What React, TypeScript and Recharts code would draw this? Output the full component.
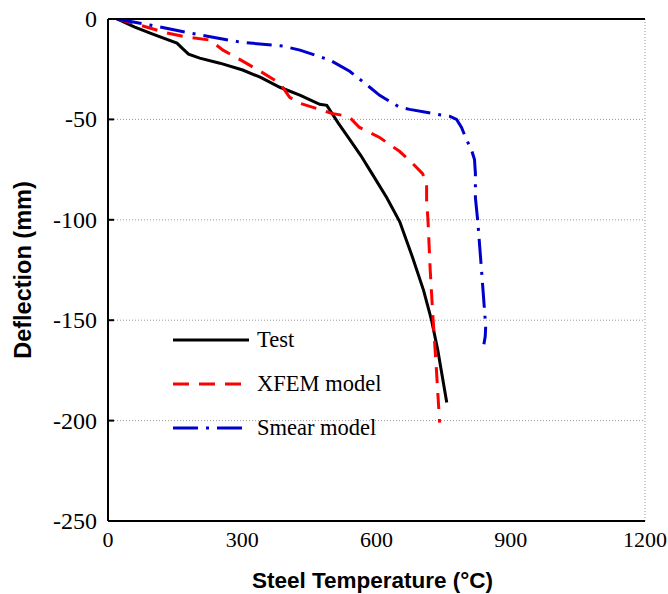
import { CartesianGrid, Label, Legend, Line, LineChart, XAxis, YAxis } from "recharts"

// Test curve (temperature °C, deflection mm)
const testTemp = [20, 60, 100, 154, 168, 180, 205, 250, 301, 340, 384, 430, 473, 489, 515, 540, 565, 590, 623, 652, 681, 705, 723, 737, 757]
const testDefl = [0, -4, -7.5, -12, -15, -17.5, -19.5, -22, -25.4, -29, -34, -38, -42.5, -43, -52, -60, -68, -77, -89, -101, -119, -135, -150, -165, -191]

// XFEM model
const xfemTemp = [20, 70, 132, 176, 228, 257, 301, 340, 384, 406, 429, 458, 500, 525, 540, 562, 607, 652, 681, 703, 712, 712, 715, 720, 726, 734, 741]
const xfemDefl = [0, -3, -7, -9, -10.5, -15.5, -21, -26, -32, -39, -42, -44, -47, -48, -49, -54, -59, -66, -72, -77, -82, -90, -100, -125, -148, -175, -201]

// Smear model
const smearTemp = [20, 94, 183, 295, 391, 429, 496, 540, 585, 607, 652, 674, 734, 763, 779, 790, 801, 812, 819, 821, 821, 826, 834, 842, 844, 843, 840]
const smearDefl = [0, -3, -7, -11.5, -13.5, -15.5, -20.5, -26, -34, -38, -44, -45, -47.4, -48.4, -50, -54, -60, -65, -70, -77, -89, -100, -123, -147, -153, -158, -162]

const xTicks = [0, 300, 600, 900, 1200]
const yTicks = [0, -50, -100, -150, -200, -250]

const toPoints = (t: number[], d: number[]) => t.map((v, i) => ({ t: v, d: d[i] }))

const series = [
  { name: "Test", data: toPoints(testTemp, testDefl), color: "#000000", dash: undefined },
  { name: "XFEM model", data: toPoints(xfemTemp, xfemDefl), color: "#ff0000", dash: "16 10" },
  { name: "Smear model", data: toPoints(smearTemp, smearDefl), color: "#0000cc", dash: "25 8 3 8" },
]

const serif = "'Liberation Serif', 'Times New Roman', serif"
const sans = "'Liberation Sans', Arial, sans-serif"

const renderXTick = (props: any) => (
  <text x={props.x} y={props.y + 16} textAnchor="middle" style={{ fontFamily: serif, fontSize: 22, fill: "#000" }}>
    {props.payload.value}
  </text>
)

const renderYTick = (props: any) => (
  <text x={props.x} y={props.y + 8} textAnchor="end" style={{ fontFamily: serif, fontSize: 24, fill: "#000" }}>
    {props.payload.value}
  </text>
)

const LegendBox = () => (
  <div style={{ fontFamily: serif, fontSize: 22.5, color: "#000" }}>
    {series.map((s) => (
      <div key={s.name} style={{ display: "flex", alignItems: "center", height: 44 }}>
        <svg width={76} height={6} style={{ marginRight: 8 }}>
          <line x1={0} y1={3} x2={76} y2={3} stroke={s.color} strokeWidth={3} strokeDasharray={s.dash} />
        </svg>
        <span>{s.name}</span>
      </div>
    ))}
  </div>
)

export default function App() {
  return (
    <div style={{ position: "absolute", left: 0, top: 0, width: 668, height: 594, background: "#fff" }}>
      <LineChart width={668} height={594} margin={{ top: 18, right: 23, left: 8, bottom: 33 }}>
        <CartesianGrid stroke="#999" strokeDasharray="1 2" />
        <XAxis
          xAxisId="bottom"
          type="number"
          dataKey="t"
          domain={[0, 1200]}
          ticks={xTicks}
          height={40}
          tickLine={false}
          tickMargin={4}
          axisLine={{ stroke: "#000", strokeWidth: 2 }}
          tick={renderXTick}
          allowDataOverflow
        >
          <Label
            content={({ viewBox }: any) => (
              <text
                x={viewBox.x + viewBox.width / 2 - 4}
                y={588}
                textAnchor="middle"
                style={{ fontFamily: sans, fontWeight: "bold", fontSize: 22.5, fill: "#000" }}
              >
                Steel Temperature (°C)
              </text>
            )}
          />
        </XAxis>
        <XAxis
          xAxisId="top"
          orientation="top"
          type="number"
          domain={[0, 1200]}
          ticks={xTicks}
          height={1}
          tickSize={-6}
          tickLine={{ stroke: "#000", strokeWidth: 2 }}
          axisLine={{ stroke: "#000", strokeWidth: 2 }}
          tick={() => <g />}
        />
        <YAxis
          type="number"
          dataKey="d"
          domain={[-250, 0]}
          ticks={yTicks}
          width={100}
          tickSize={-6}
          tickMargin={17}
          tickLine={{ stroke: "#000", strokeWidth: 2 }}
          axisLine={{ stroke: "#000", strokeWidth: 2 }}
          tick={renderYTick}
          allowDataOverflow
        >
          <Label
            content={({ viewBox }: any) => {
              const cy = viewBox.y + viewBox.height / 2
              return (
                <text
                  x={31}
                  y={cy}
                  transform={`rotate(-90 31 ${cy})`}
                  textAnchor="middle"
                  style={{ fontFamily: sans, fontWeight: "bold", fontSize: 23.5, fill: "#000" }}
                >
                  Deflection (mm)
                </text>
              )
            }}
          />
        </YAxis>
        <YAxis
          yAxisId="right"
          orientation="right"
          type="number"
          domain={[-250, 0]}
          width={0}
          tickLine={false}
          tick={false}
          axisLine={{ stroke: "#000", strokeWidth: 2 }}
        />
        {series.map((s) => (
          <Line
            key={s.name}
            xAxisId="bottom"
            data={s.data}
            dataKey="d"
            name={s.name}
            type="linear"
            stroke={s.color}
            strokeWidth={3}
            strokeDasharray={s.dash}
            dot={false}
            activeDot={false}
            isAnimationActive={false}
          />
        ))}
        <Legend
          layout="vertical"
          align="center"
          verticalAlign="middle"
          content={<LegendBox />}
          wrapperStyle={{ position: "absolute", left: 173, top: 318, width: 240 }}
        />
      </LineChart>
    </div>
  )
}
